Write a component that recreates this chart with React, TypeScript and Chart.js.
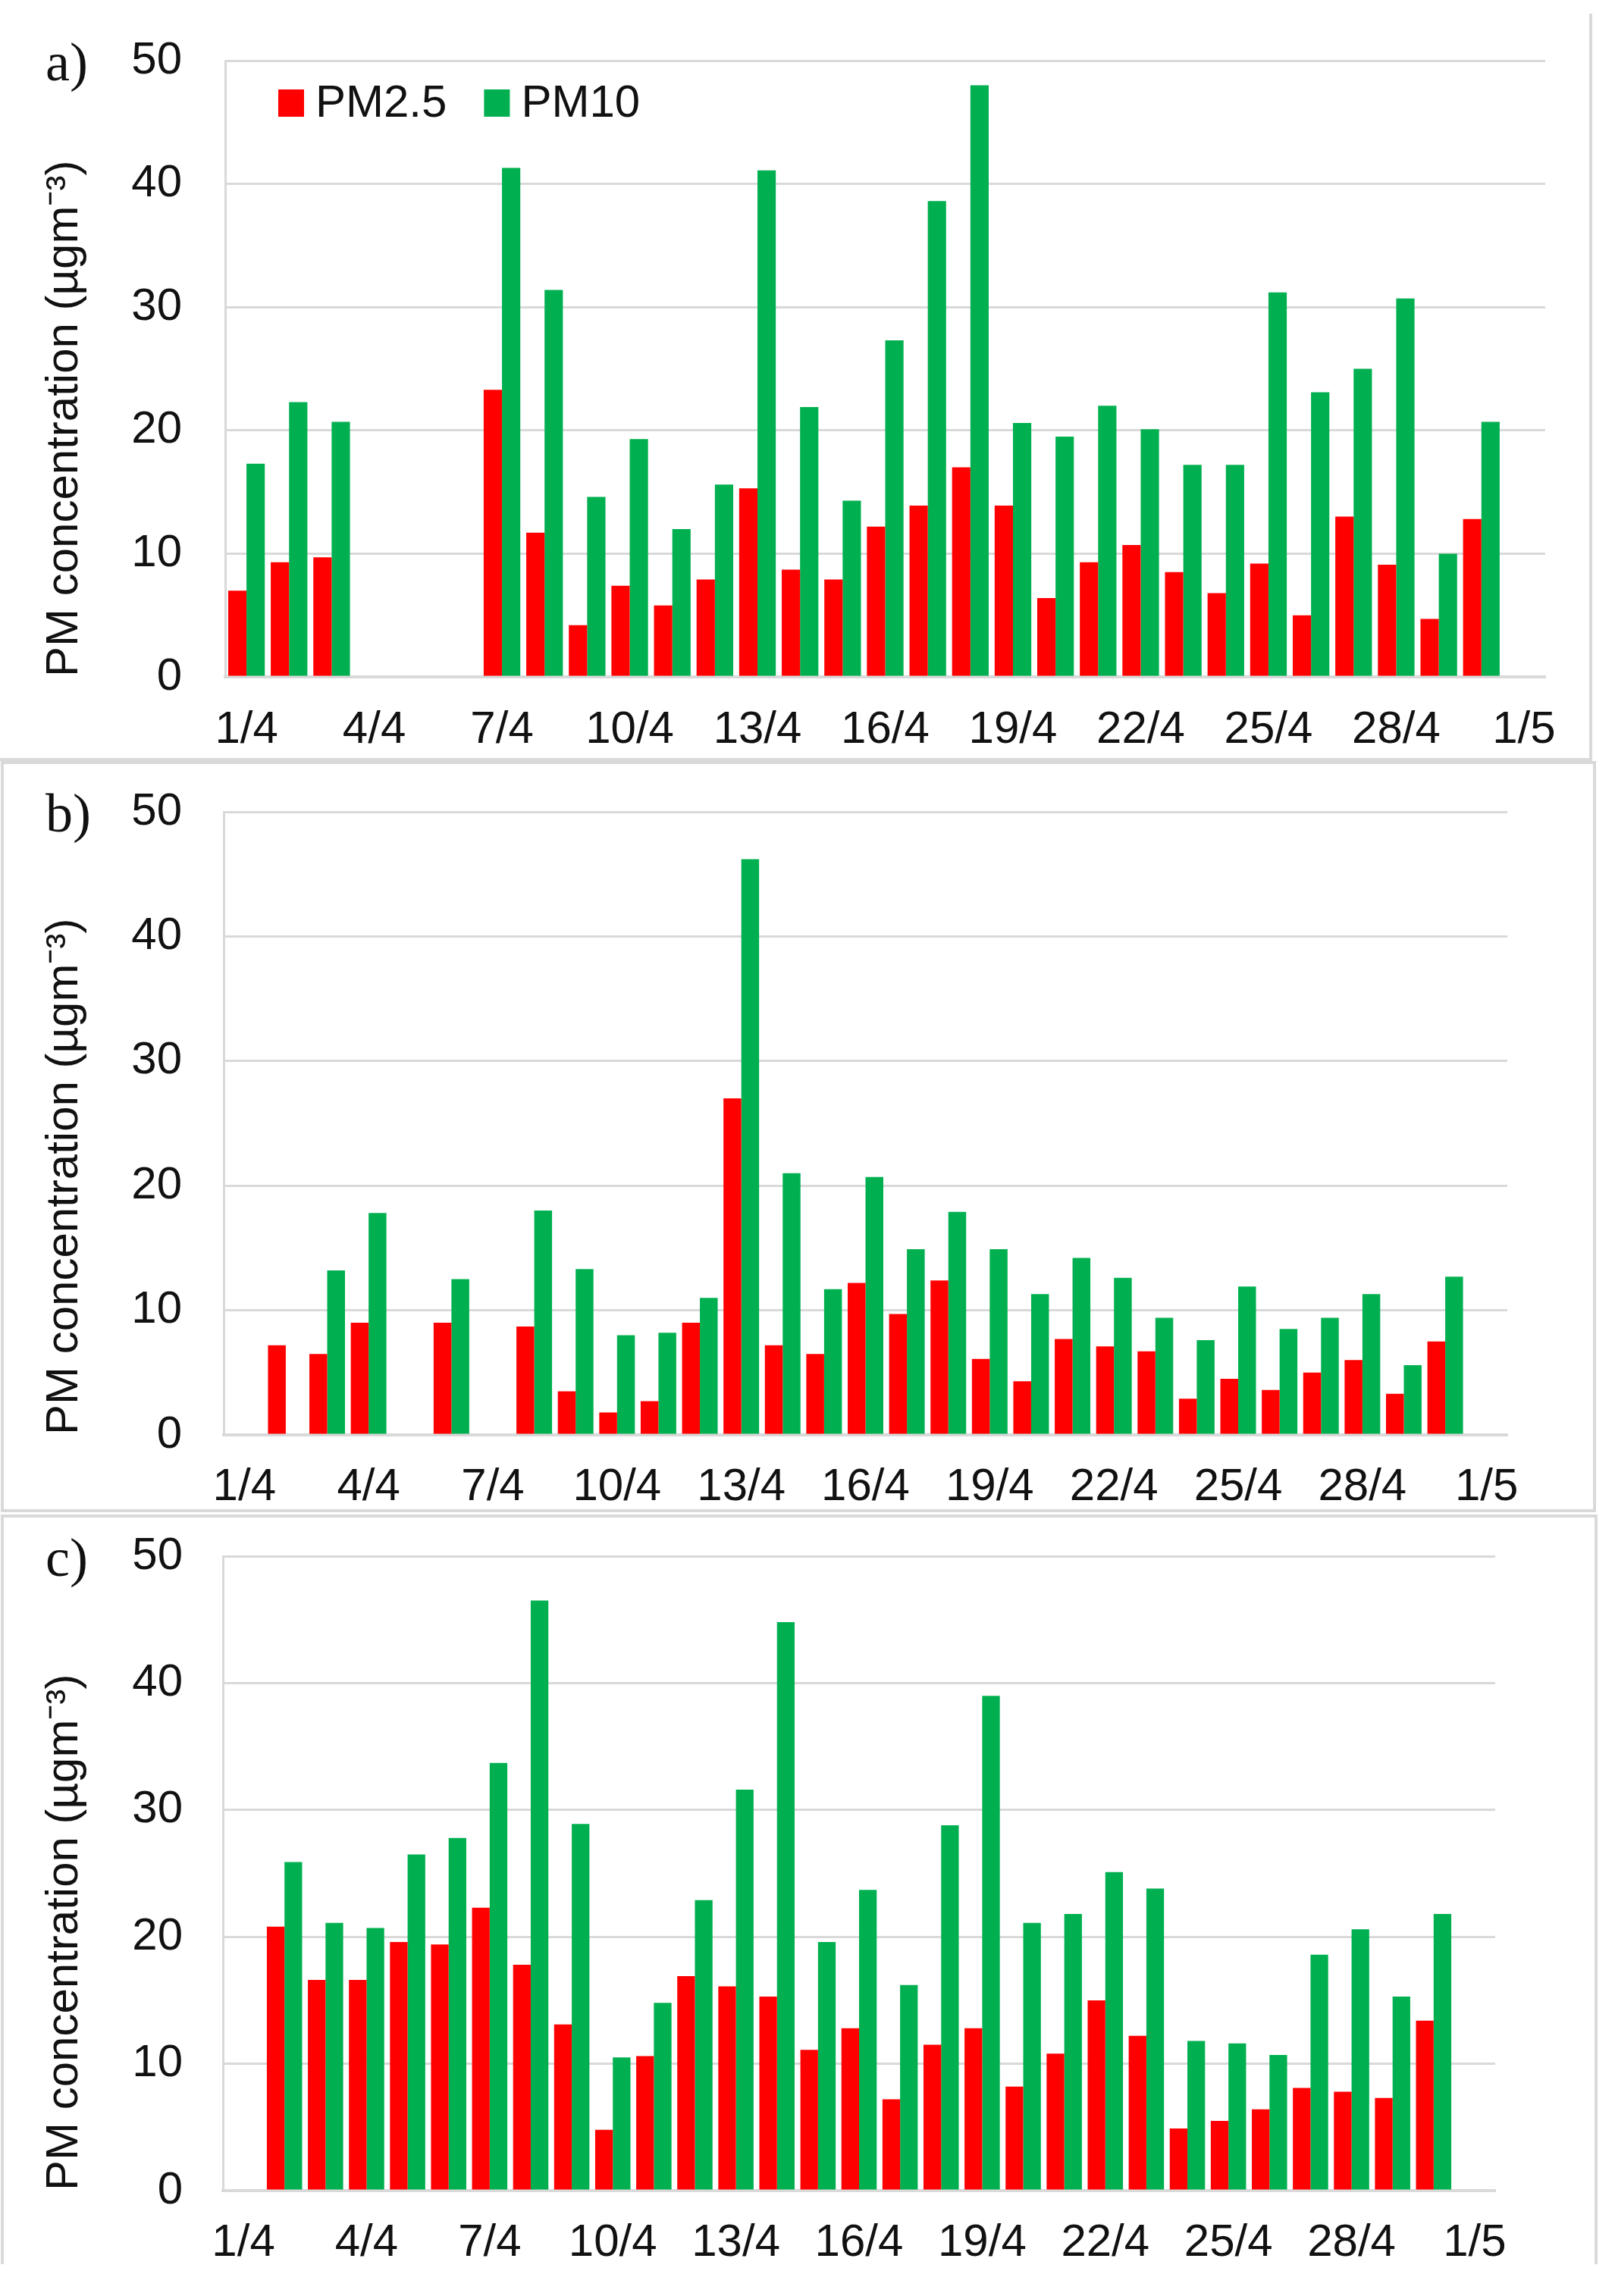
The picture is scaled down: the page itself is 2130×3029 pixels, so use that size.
import React, { useEffect, useRef } from 'react';
import { Chart, registerables } from 'chart.js';

Chart.register(...registerables);

// ---------- data ----------
const dates = [
  '1/4', '2/4', '3/4', '4/4', '5/4', '6/4', '7/4', '8/4', '9/4', '10/4',
  '11/4', '12/4', '13/4', '14/4', '15/4', '16/4', '17/4', '18/4', '19/4', '20/4',
  '21/4', '22/4', '23/4', '24/4', '25/4', '26/4', '27/4', '28/4', '29/4', '30/4', '1/5',
];
const tickLabels = ['1/4', '4/4', '7/4', '10/4', '13/4', '16/4', '19/4', '22/4', '25/4', '28/4', '1/5'];
const seriesNames = ['PM2.5', 'PM10'];
const seriesColors = ['#FF0000', '#00B050'];
const yTitle = 'PM concentration (µgm⁻³)';
const yTicks = [0, 10, 20, 30, 40, 50];
const panelLetters = ['a)', 'b)', 'c)'];

const aPM25 = [7.0, 9.3, 9.7, null, null, null, 23.3, 11.7, 4.2, 7.4, 5.8, 7.9, 15.3, 8.7, 7.9, 12.2, 13.9, 17.0, 13.9, 6.4, 9.3, 10.7, 8.5, 6.8, 9.2, 5.0, 13.0, 9.1, 4.7, 12.8, null];
const aPM10 = [17.3, 22.3, 20.7, null, null, null, 41.3, 31.4, 14.6, 19.3, 12.0, 15.6, 41.1, 21.9, 14.3, 27.3, 38.6, 48.0, 20.6, 19.5, 22.0, 20.1, 17.2, 17.2, 31.2, 23.1, 25.0, 30.7, 10.0, 20.7, null];

const bPM25 = [null, 7.2, 6.5, 9.0, null, 9.0, null, 8.7, 3.5, 1.8, 2.7, 9.0, 27.0, 7.2, 6.5, 12.2, 9.7, 12.4, 6.1, 4.3, 7.7, 7.1, 6.7, 2.9, 4.5, 3.6, 5.0, 6.0, 3.3, 7.5, null];
const bPM10 = [null, null, 13.2, 17.8, null, 12.5, null, 18.0, 13.3, 8.0, 8.2, 11.0, 46.2, 21.0, 11.7, 20.7, 14.9, 17.9, 14.9, 11.3, 14.2, 12.6, 9.4, 7.6, 11.9, 8.5, 9.4, 11.3, 5.6, 12.7, null];

const cPM25 = [null, 20.8, 16.6, 16.6, 19.6, 19.4, 22.3, 17.8, 13.1, 4.8, 10.6, 16.9, 16.1, 15.3, 11.1, 12.8, 7.2, 11.5, 12.8, 8.2, 10.8, 15.0, 12.2, 4.9, 5.5, 6.4, 8.1, 7.8, 7.3, 13.4, null];
const cPM10 = [null, 25.9, 21.1, 20.7, 26.5, 27.8, 33.7, 46.5, 28.9, 10.5, 14.8, 22.9, 31.6, 44.8, 19.6, 23.7, 16.2, 28.8, 39.0, 21.1, 21.8, 25.1, 23.8, 11.8, 11.6, 10.7, 18.6, 20.6, 15.3, 21.8, null];

// ---------- style ----------
const W = 2130;
const H = 3029;
const SANS = "'Liberation Sans', Arial, Helvetica, sans-serif";
const SERIF = "'Liberation Serif', 'Times New Roman', serif";
const GRID = '#D9D9D9';
const TEXT = '#111111';

type PanelGeom = {
  top: number; height: number;
  left: number; areaTop: number; right: number; areaBottom: number;
  yPad: number; xPad: number;
};

const geoms: PanelGeom[] = [
  { top: 0, height: 1000, left: 297, areaTop: 80, right: 2038, areaBottom: 893, yPad: 57, xPad: 34 },
  { top: 1000, height: 997, left: 295, areaTop: 71, right: 1988, areaBottom: 893, yPad: 55, xPad: 33 },
  { top: 1997, height: 1032, left: 294, areaTop: 56, right: 1972, areaBottom: 893, yPad: 53, xPad: 33 },
];

const decorPlugin = {
  id: 'decor',
  afterDraw(chart: any, _args: any, opts: any) {
    const ctx = chart.ctx;
    const area = chart.chartArea;
    ctx.save();
    ctx.fillStyle = TEXT;
    ctx.textAlign = 'left';
    ctx.textBaseline = 'alphabetic';
    ctx.font = `72px ${SERIF}`;
    ctx.fillText(opts.letter, 60, area.top + 26);
    if (opts.legend) {
      ctx.font = `60px ${SANS}`;
      ctx.textBaseline = 'middle';
      let x = area.left + 70;
      const cy = area.top + 56;
      chart.data.datasets.forEach((ds: any) => {
        ctx.fillStyle = ds.backgroundColor;
        ctx.fillRect(x, cy - 18, 34, 36);
        x += 34 + 15;
        ctx.fillStyle = TEXT;
        ctx.fillText(ds.label, x, cy + 1);
        x += ctx.measureText(ds.label).width + 49;
      });
    }
    ctx.restore();
  },
};

function Panel({ idx, pm25, pm10, legend }: { idx: number; pm25: (number | null)[]; pm10: (number | null)[]; legend: boolean }) {
  const ref = useRef<HTMLCanvasElement>(null);
  const g = geoms[idx];
  useEffect(() => {
    if (!ref.current) return;
    const chart = new Chart(ref.current, {
      type: 'bar',
      data: {
        labels: dates,
        datasets: [
          { label: seriesNames[0], data: pm25, backgroundColor: seriesColors[0], borderWidth: 0 },
          { label: seriesNames[1], data: pm10, backgroundColor: seriesColors[1], borderWidth: 0 },
        ],
      },
      options: {
        animation: false,
        responsive: false,
        devicePixelRatio: 1,
        layout: { padding: { left: 0, top: g.areaTop, right: W - g.right, bottom: 0 } },
        datasets: { bar: { categoryPercentage: 0.86, barPercentage: 1.0 } },
        plugins: {
          legend: { display: false },
          tooltip: { enabled: false },
          title: { display: false },
          decor: { letter: panelLetters[idx], legend },
        } as any,
        scales: {
          x: {
            type: 'category',
            offset: true,
            grid: { display: false, drawTicks: false },
            border: { display: true, color: GRID, width: 4 },
            ticks: {
              autoSkip: false,
              maxRotation: 0,
              minRotation: 0,
              padding: g.xPad,
              color: TEXT,
              font: { family: SANS, size: 60 },
              callback: (_v: any, i: number) => (tickLabels.includes(dates[i]) ? dates[i] : ''),
            },
            afterFit: (s: any) => { s.height = g.height - g.areaBottom; },
          },
          y: {
            min: 0,
            max: 50,
            afterBuildTicks: (s: any) => { s.ticks = yTicks.map((v) => ({ value: v })); },
            grid: {
              color: GRID,
              lineWidth: 3,
              drawTicks: true,
              tickLength: g.yPad,
              tickColor: 'rgba(0,0,0,0)',
            },
            border: { display: true, color: GRID, width: 3 },
            ticks: {
              padding: 0,
              color: TEXT,
              font: { family: SANS, size: 60 },
            },
            title: {
              display: true,
              text: yTitle,
              align: 'start',
              color: TEXT,
              font: { family: SANS, size: 60 },
              padding: { top: 49, bottom: 0 },
            },
            afterFit: (s: any) => { s.width = g.left; },
          },
        },
      },
      plugins: [decorPlugin],
    } as any);
    return () => chart.destroy();
  }, []);
  return (
    <canvas
      ref={ref}
      width={W}
      height={g.height}
      style={{ position: 'absolute', left: 0, top: g.top, width: W, height: g.height }}
    />
  );
}

const line = (s: React.CSSProperties): React.CSSProperties => ({ position: 'absolute', background: GRID, ...s });

export default function App() {
  return (
    <div style={{ position: 'absolute', left: 0, top: 0, width: W, height: H, background: '#fff', overflow: 'hidden' }}>
      {/* panel frames */}
      <div style={line({ left: 2096, top: 18, width: 4, height: 986 })} />
      <div style={line({ left: 0, top: 1000, width: 2100, height: 4 })} />
      <div style={line({ left: 1, top: 1004, width: 4, height: 991 })} />
      <div style={line({ left: 2101, top: 1004, width: 4, height: 991 })} />
      <div style={line({ left: 1, top: 1004, width: 2104, height: 4 })} />
      <div style={line({ left: 1, top: 1991, width: 2104, height: 4 })} />
      <div style={line({ left: 1, top: 1998, width: 2106, height: 4 })} />
      <div style={line({ left: 1, top: 1998, width: 4, height: 989 })} />
      <div style={line({ left: 2103, top: 1998, width: 4, height: 989 })} />
      <Panel idx={0} pm25={aPM25} pm10={aPM10} legend={true} />
      <Panel idx={1} pm25={bPM25} pm10={bPM10} legend={false} />
      <Panel idx={2} pm25={cPM25} pm10={cPM10} legend={false} />
    </div>
  );
}
